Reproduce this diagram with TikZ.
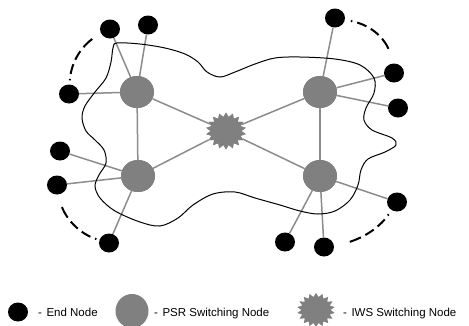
\documentclass[tikz,border=0pt]{standalone}
\usepackage{fontspec}
\setmainfont{Liberation Sans}
\usetikzlibrary{shapes.geometric}
\definecolor{psrgray}{RGB}{128,128,128}
\definecolor{edgegray}{RGB}{140,140,140}
\tikzset{
  endnode/.style={ellipse, fill=black, minimum width=20pt, minimum height=19pt, inner sep=0pt},
  psrnode/.style={ellipse, fill=psrgray, minimum width=34pt, minimum height=32pt, inner sep=0pt},
  iwsnode/.style={star, star points=18, star point ratio=1.3, fill=psrgray, minimum size=40pt, inner sep=0pt},
  link/.style={draw=edgegray, line width=1.5pt},
  arcdash/.style={draw=black, line width=2pt, dash pattern=on 1.5pt off 5pt on 10pt off 5pt on 10pt off 5pt on 12pt off 60pt},
  wave/.style={draw=black, line width=1pt},
  legendtext/.style={font=\fontsize{11.5}{13}\selectfont, anchor=base west, inner sep=0pt}
}
\begin{document}
\begin{tikzpicture}[x=1pt,y=-1pt]
\useasboundingbox (0,0) rectangle (469,325);
% coordinates of nodes
\coordinate (P1) at (137,92);
\coordinate (P2) at (320,92);
\coordinate (P3) at (138,176);
\coordinate (P4) at (320,176);
\coordinate (S) at (226,131);
% edges first (under nodes)
\begin{scope}[on background layer/.style={}]
\end{scope}
\node[psrnode] (p1) at (P1) {};
\node[psrnode] (p2) at (P2) {};
\node[psrnode] (p3) at (P3) {};
\node[psrnode] (p4) at (P4) {};
\node[iwsnode, yscale=0.92] (s) at (S) {};
\node[endnode] (a1) at (110,29) {};
\node[endnode] (a2) at (148,25) {};
\node[endnode] (a3) at (69,94) {};
\node[endnode] (b1) at (335,18) {};
\node[endnode] (b2) at (394,73) {};
\node[endnode] (b3) at (398,108) {};
\node[endnode] (c1) at (60,151) {};
\node[endnode] (c2) at (57,185) {};
\node[endnode] (c3) at (109,243) {};
\node[endnode] (d1) at (397,202) {};
\node[endnode] (d2) at (285,242) {};
\node[endnode] (d3) at (324,247) {};
% gray links
\begin{scope}[link]
\draw (p1) -- (a1); \draw (p1) -- (a2); \draw (p1) -- (a3);
\draw (p2) -- (b1); \draw (p2) -- (b2); \draw (p2) -- (b3);
\draw (p3) -- (c1); \draw (p3) -- (c2); \draw (p3) -- (c3);
\draw (p4) -- (d1); \draw (p4) -- (d2); \draw (p4) -- (d3);
\draw (p1) -- (p3); \draw (p2) -- (p4);
\draw (p1) -- (s); \draw (p2) -- (s); \draw (p3) -- (s); \draw (p4) -- (s);
\end{scope}
% redraw nodes on top of links
\node[psrnode] at (P1) {};
\node[psrnode] at (P2) {};
\node[psrnode] at (P3) {};
\node[psrnode] at (P4) {};
\node[iwsnode, yscale=0.92] at (S) {};
% wavy domain boundary
\draw[wave] plot[smooth cycle, tension=0.55] coordinates {
 (117,43) (140,44) (165,48) (185,54) (198,62) (207,72) (220,77) (235,72)
 (255,64) (275,58) (300,57) (335,59) (360,65) (374,78) (374,93) (366,108)
 (364,120) (372,130) (392,138) (396,145) (385,152) (368,159) (361,170)
 (358,185) (350,200) (335,211) (318,214) (300,211) (280,205) (255,198)
 (235,192) (213,194) (193,205) (178,218) (160,226) (140,222) (115,211)
 (100,198) (95,186) (99,175) (106,163) (104,150) (95,140) (86,131)
 (82,118) (85,106) (95,92) (106,78) (111,62) (113,48)};
% dash-dot arcs
\draw[arcdash, shorten <=4pt, shorten >=4pt] (a3) .. controls (71,62) and (82,44) .. (a1);
\draw[arcdash, shorten <=6pt, shorten >=6pt] (b1) .. controls (372,25) and (388,40) .. (b2);
\draw[arcdash, shorten <=3pt, shorten >=4pt] (c3) .. controls (80,234) and (63,218) .. (c2);
\draw[arcdash, shorten <=5pt, shorten >=7pt] (d1) .. controls (378,230) and (358,241) .. (d3);
% legend
\node[endnode] (le) at (18,312) {};
\node[legendtext] (lte) at (38,316) {-\hspace{4.5pt}End Node};
\node[psrnode, minimum width=33pt, minimum height=34pt] (lp) at (132,311) {};
\node[legendtext] (ltp) at (154,316) {-\hspace{4.5pt}PSR Switching Node};
\node[iwsnode, minimum size=38pt, yscale=0.9] (ls) at (316,310) {};
\node[legendtext] (lts) at (343,316) {-\hspace{4.5pt}IWS Switching Node};
\end{tikzpicture}
\end{document}
